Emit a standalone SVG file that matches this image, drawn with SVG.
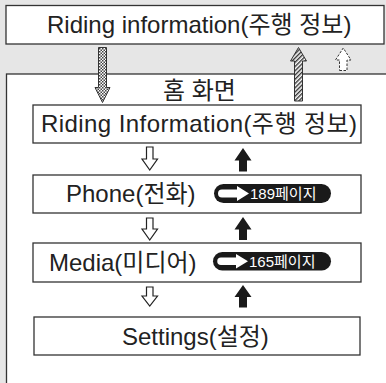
<svg xmlns="http://www.w3.org/2000/svg" width="386" height="383" viewBox="0 0 386 383">
<style>
.box{fill:#fff;stroke:#333;stroke-width:1.3}
.t{font-family:"Liberation Sans","Noto Sans CJK KR",Arial,sans-serif;font-size:24px;fill:#222}
.pill{fill:#1a1a1a}
.pt{font-family:"Liberation Sans","Noto Sans CJK KR",Arial,sans-serif;font-size:15px;fill:#fff}
.hollow{fill:#fff;stroke:#222;stroke-width:1.2;stroke-linejoin:miter}
.solid{fill:#1a1a1a}
</style>
<defs>
<pattern id="checker" width="3" height="3" patternUnits="userSpaceOnUse">
<rect width="3" height="3" fill="#fff"/>
<rect width="1.5" height="1.5" fill="#444"/>
<rect x="1.5" y="1.5" width="1.5" height="1.5" fill="#444"/>
</pattern>
<pattern id="hatch" width="3" height="3" patternUnits="userSpaceOnUse" patternTransform="rotate(45)">
<rect width="3" height="3" fill="#fff"/>
<rect width="1.4" height="3" fill="#333"/>
</pattern>
</defs>
<rect width="386" height="383" fill="#e6e6e6"/>

<g id="riding-top">
<rect class="box" x="6" y="5.5" width="378" height="38.5"/>
<text class="t" x="47" y="33">Riding information(주행 정보)</text>
</g>

<g id="home">
<rect class="box" x="6.5" y="74" width="400" height="330"/>
<text class="t" x="163" y="99" font-size="22">홈 화면</text>
</g>

<g id="riding-info">
<rect class="box" x="33" y="105" width="328" height="38"/>
<text class="t" x="41" y="131.5" textLength="316" lengthAdjust="spacing">Riding Information(주행 정보)</text>
</g>

<g id="phone">
<rect class="box" x="33" y="175" width="328" height="38"/>
<text class="t" x="66" y="202">Phone(전화)</text>
<rect class="pill" x="214" y="184" width="117" height="19" rx="9.5"/>
<path fill="#fff" d="M222 189.5 H237 V186 L249 193.5 L237 201 V197.5 H222 A4 4 0 0 1 222 189.5 Z"/>
<text class="pt" x="250" y="199">189페이지</text>
</g>

<g id="media">
<rect class="box" x="33" y="243" width="328" height="39"/>
<text class="t" x="49" y="271">Media(미디어)</text>
<rect class="pill" x="213" y="252" width="118" height="18.5" rx="9.25"/>
<path fill="#fff" d="M221 257.5 H236 V254 L248 261.25 L236 268.5 V265 H221 A3.75 3.75 0 0 1 221 257.5 Z"/>
<text class="pt" x="249" y="266.5">165페이지</text>
</g>

<g id="settings">
<rect class="box" x="34" y="317" width="326" height="38"/>
<text class="t" x="122" y="344.5">Settings(설정)</text>
</g>

<g id="connectors">
<path fill="url(#checker)" stroke="#333" stroke-width="1" d="M98.5 47.5 H106.5 V87.5 H110 L102.5 102.5 L95 87.5 H98.5 Z"/>
<path fill="url(#hatch)" stroke="#333" stroke-width="1" d="M294.5 101 H302.5 V61 H306.5 L298.5 47.5 L290.5 61 H294.5 Z"/>
<path fill="#fff" stroke="#333" stroke-width="1" stroke-dasharray="2.5 1.5" d="M339.5 70.5 H347 V60 H351 L343.25 48 L335.5 60 H339.5 Z"/>
<path class="hollow" d="M146.5 147 H153 V159 H157.5 L149.75 170 L142 159 H146.5 Z"/>
<path class="solid" d="M239 171.5 H247 V160.5 H251.5 L243 148 L234.5 160.5 H239 Z"/>
<path class="hollow" d="M146.5 218 H153 V229 H157.5 L149.75 240 L142 229 H146.5 Z"/>
<path class="solid" d="M239 240 H247 V229.5 H251.5 L243 217 L234.5 229.5 H239 Z"/>
<path class="hollow" d="M146.5 287 H153 V296 H157.5 L149.75 306 L142 296 H146.5 Z"/>
<path class="solid" d="M239 307.5 H247 V297 H251.5 L243 285 L234.5 297 H239 Z"/>
</g>
</svg>
